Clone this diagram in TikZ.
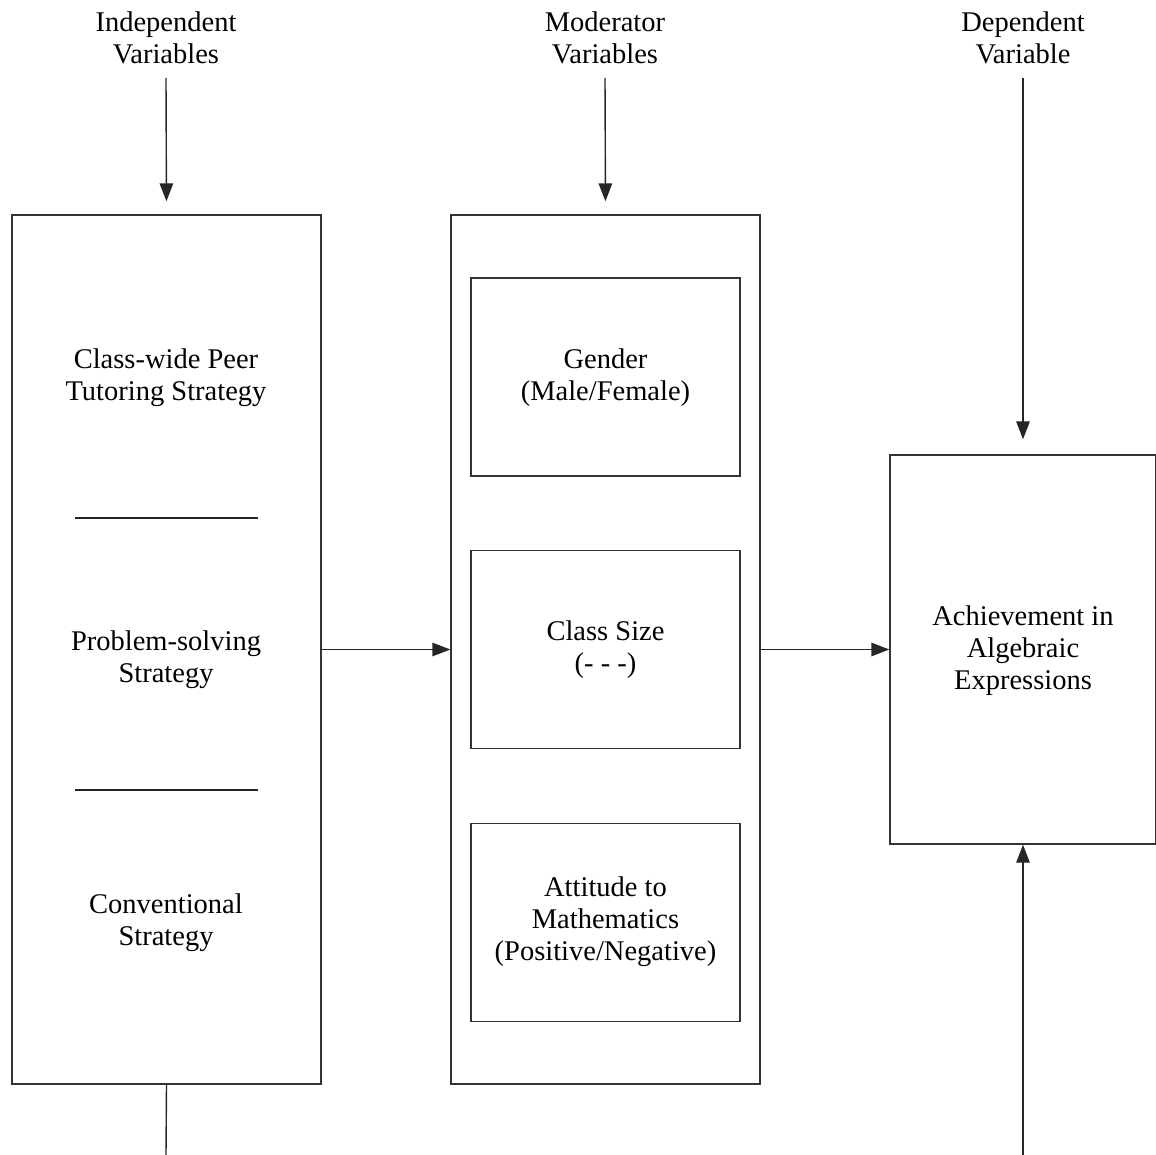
\documentclass[tikz,border=0pt]{standalone}
\usepackage{fontspec}
\setmainfont{Liberation Serif}
\usetikzlibrary{arrows.meta}

\begin{document}
\begin{tikzpicture}[x=1pt,y=-1pt,
  every node/.style={font=\fontsize{28.5}{32}\selectfont,align=center},
  frame/.style={draw=black!80,line width=1.4pt,inner sep=0pt},
  link/.style={draw=black!85,line width=1.4pt},
  arr/.style={link,-{Triangle[length=18pt,width=13.5pt]}}]
\useasboundingbox (0,0) rectangle (1156,1155);
% outer boxes
\node[frame,minimum width=309pt,minimum height=869pt] (indbox) at (166.5,649.5) {};
\node[frame,minimum width=309pt,minimum height=869pt] (modbox) at (605.5,649.5) {};
\node[frame,minimum width=266pt,minimum height=389pt] (depbox) at (1023,649.5) {};
\node (achieve) at (1023,651) {Achievement in\\Algebraic\\Expressions};
% moderator boxes
\node[frame,minimum width=269pt,minimum height=198pt] (gender) at (605.5,377) {};
\node[frame,minimum width=269pt,minimum height=198pt] (size) at (605.5,649.5) {};
\node[frame,minimum width=269pt,minimum height=198pt] (attitude) at (605.5,922.5) {};
\node (gendertxt) at (605.5,378) {Gender\\(Male/Female)};
\node (sizetxt) at (605.5,650) {Class Size\\(- - -)};
\node (attitudetxt) at (605.5,922) {Attitude to\\Mathematics\\(Positive/Negative)};
% independent variables
\node (peer) at (166,378) {Class-wide Peer\\Tutoring Strategy};
\node (problem) at (166,660) {Problem-solving\\Strategy};
\node (conv) at (166,923) {Conventional\\Strategy};
\draw[link] (75,518) -- (258,518);
\draw[link] (75,790) -- (258,790);
% headings
\node (indlab) at (166,38) {Independent\\Variables};
\node (modlab) at (605,38) {Moderator\\Variables};
\node (deplab) at (1023,38) {Dependent\\Variable};
\coordinate (indtop) at (166,78);
\coordinate (modtop) at (605,78);
\coordinate (deptop) at (1023,78);
\coordinate (indend) at (166,1155);
\coordinate (depend) at (1023,1155);
% connectors
\draw[arr,shorten >=13pt] (indtop) -- (indbox.north);
\draw[arr,shorten >=13pt] (modtop) -- (modbox.north);
\draw[arr,shorten >=15pt] (deptop) -- (depbox.north);
\draw[arr] (indbox.east) -- (modbox.west);
\draw[arr] (modbox.east) -- (depbox.west);
\draw[link] (indbox.south) -- (indend);
\draw[arr] (depend) -- (depbox.south);
\end{tikzpicture}
\end{document}
